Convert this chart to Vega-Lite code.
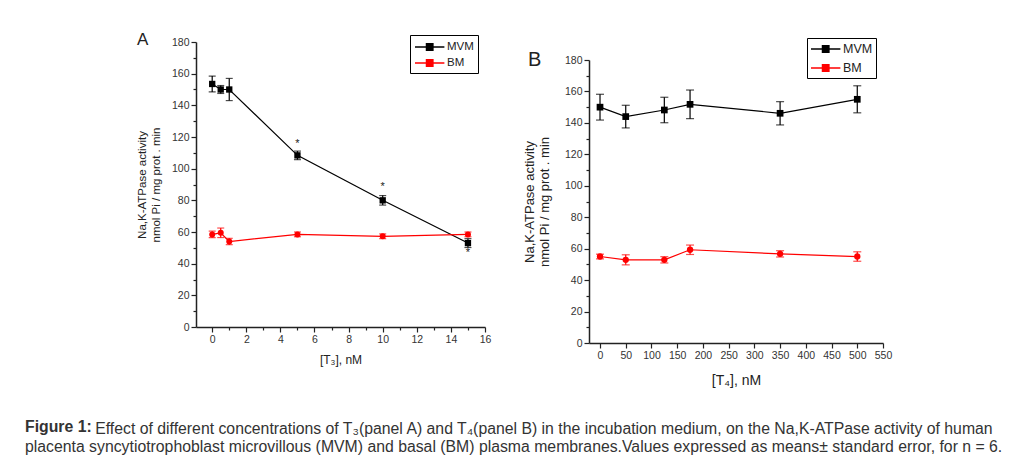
{
  "$schema": "https://vega.github.io/schema/vega-lite/v6.json",
  "background": "white",
  "padding": {"left": 25, "top": 30, "right": 5, "bottom": 5},
  "bounds": "flush",
  "spacing": 104,
  "config": {
    "font": "Liberation Sans",
    "view": {"stroke": null},
    "axis": {"grid": false, "domainColor": "#222", "domainWidth": 1.5, "tickColor": "#222", "tickWidth": 1.2, "labelColor": "#333", "labelFont": "Liberation Sans Narrow, Liberation Sans", "labelFontSize": 10.5, "titleFontWeight": "normal", "titleColor": "#222", "labelFlush": false, "labelOverlap": false, "labelPadding": 2}
  },
  "title": {
    "text": "Figure 1:",
    "orient": "bottom", "anchor": "start", "frame": "group", "dx": -171, "dy": -34, "fontSize": 15.8, "fontWeight": "bold", "color": "#333", "offset": 0
  },
  "datasets": {
    "A": [
      {"x": 0, "series": "MVM", "mean": 153.5, "err": 5},
      {"x": 0.5, "series": "MVM", "mean": 150, "err": 2.5},
      {"x": 1, "series": "MVM", "mean": 150, "err": 7},
      {"x": 5, "series": "MVM", "mean": 108.4, "err": 2.7},
      {"x": 10, "series": "MVM", "mean": 80, "err": 3},
      {"x": 15, "series": "MVM", "mean": 53, "err": 2.8},
      {"x": 0, "series": "BM", "mean": 58.5, "err": 2},
      {"x": 0.5, "series": "BM", "mean": 59.5, "err": 3},
      {"x": 1, "series": "BM", "mean": 54, "err": 2},
      {"x": 5, "series": "BM", "mean": 58.5, "err": 1.5},
      {"x": 10, "series": "BM", "mean": 57.3, "err": 1.5},
      {"x": 15, "series": "BM", "mean": 58.5, "err": 1.5}
    ],
    "starsA": [
      {"x": 5, "y": 115.4, "t": "*"},
      {"x": 10, "y": 88.4, "t": "*"},
      {"x": 15, "y": 46.5, "t": "*"}
    ],
    "B": [
      {"x": 0, "series": "MVM", "mean": 150, "err": 8.2},
      {"x": 50, "series": "MVM", "mean": 144, "err": 7.2},
      {"x": 125, "series": "MVM", "mean": 148.2, "err": 8.1},
      {"x": 175, "series": "MVM", "mean": 151.8, "err": 9.1},
      {"x": 350, "series": "MVM", "mean": 146.1, "err": 7.4},
      {"x": 500, "series": "MVM", "mean": 155, "err": 8.6},
      {"x": 0, "series": "BM", "mean": 55, "err": 1.5},
      {"x": 50, "series": "BM", "mean": 52.9, "err": 3.2},
      {"x": 125, "series": "BM", "mean": 52.9, "err": 2},
      {"x": 175, "series": "BM", "mean": 59.3, "err": 3},
      {"x": 350, "series": "BM", "mean": 56.7, "err": 2},
      {"x": 500, "series": "BM", "mean": 55, "err": 3}
    ]
  },
  "resolve": {"legend": {"color": "independent"}, "scale": {"color": "independent"}},
  "hconcat": [
    {
      "width": 289,
      "height": 285,
      "title": {"text": "A", "anchor": "start", "frame": "group", "dx": -59, "dy": 27, "fontSize": 17, "fontWeight": "normal", "color": "#222", "offset": 0, "baseline": "alphabetic"},
      "data": {"name": "A"},
      "encoding": {
        "x": {"field": "x", "type": "quantitative", "scale": {"domain": [-0.95, 16], "nice": false, "zero": false},
          "axis": {"title": "[T₃], nM", "titleFontSize": 12, "titlePadding": 10, "values": [0,1,2,3,4,5,6,7,8,9,10,11,12,13,14,15,16],
            "labelExpr": "datum.value % 2 === 0 ? datum.label : ''",
            "tickSize": {"condition": {"test": "datum.value % 2 === 0", "value": 5}, "value": 3}}},
        "y": {"field": "mean", "type": "quantitative", "scale": {"domain": [0, 180], "nice": false},
          "axis": {"title": ["Na,K-ATPase activity", "nmol Pi / mg prot . min"], "titleFontSize": 11.5, "titleLineHeight": 14, "titlePadding": 10,
            "values": [0,10,20,30,40,50,60,70,80,90,100,110,120,130,140,150,160,170,180],
            "labelExpr": "datum.value % 20 === 0 ? datum.label : ''",
            "tickSize": {"condition": {"test": "datum.value % 20 === 0", "value": 5}, "value": 3}}}
      },
      "layer": [
        {"transform": [{"filter": "datum.series === 'MVM'"}], "mark": {"type": "errorbar", "ticks": true, "size": 7, "thickness": 1.2, "color": "#000000"}, "encoding": {"yError": {"field": "err"}}},
        {"transform": [{"filter": "datum.series === 'BM'"}], "mark": {"type": "errorbar", "ticks": true, "size": 7, "thickness": 1.2, "color": "#ff0000"}, "encoding": {"yError": {"field": "err"}}},
        {"mark": {"type": "line", "strokeWidth": 1.2},
          "encoding": {"color": {"field": "series", "type": "nominal", "scale": {"domain": ["MVM", "BM"], "range": ["#000000", "#ff0000"]},
            "legend": {"title": null, "orient": "none", "legendX": 214, "legendY": -7, "strokeColor": "#000", "fillColor": "#fff", "padding": 4,
              "symbolType": "M-1,0H3.2M0.63,-0.47H1.57V0.47H0.63ZM0.8,-0.3H1.4V0.3H0.8ZM0.97,-0.13H1.23V0.13H0.97Z",
              "symbolSize": 196, "symbolStrokeWidth": 1.3, "labelFontSize": 11.5, "labelColor": "#222", "labelOffset": 17, "rowPadding": 2}}}},
        {"transform": [{"filter": "datum.series === 'MVM'"}], "mark": {"type": "point", "shape": "square", "filled": true, "opacity": 1, "size": 40, "color": "#000000"}},
        {"transform": [{"filter": "datum.series === 'BM'"}], "mark": {"type": "point", "shape": "circle", "filled": true, "opacity": 1, "size": 36, "color": "#ff0000"}},
        {"data": {"name": "starsA"}, "mark": {"type": "text", "fontSize": 11, "color": "#222"},
          "encoding": {"y": {"field": "y", "type": "quantitative"}, "text": {"field": "t"}}}
      ]
    },
    {
      "title": {
        "text": ["\u200b\u00a0\u00a0\u00a0\u00a0\u00a0\u00a0\u00a0\u00a0\u00a0\u00a0\u00a0\u00a0\u00a0\u00a0\u00a0\u00a0Effect of different concentrations of T₃(panel A) and T₄(panel B) in the incubation medium, on the Na,K-ATPase activity of human", "placenta syncytiotrophoblast microvillous (MVM) and basal (BM) plasma membranes.Values expressed as means± standard error, for n = 6."],
        "orient": "bottom", "anchor": "start", "frame": "group", "dx": -564, "fontSize": 15.8, "fontWeight": "normal", "color": "#333", "lineHeight": 18, "offset": 34
      },
      "vconcat": [
        {"width": 294, "height": 18, "data": {"values": []}, "mark": "point", "encoding": {}},
        {
          "width": 294,
          "height": 283,
          "title": {"text": "B", "anchor": "start", "frame": "group", "dx": -61, "dy": 31, "fontSize": 20, "fontWeight": "normal", "color": "#222", "offset": 0, "baseline": "alphabetic"},
          "data": {"name": "B"},
          "encoding": {
            "x": {"field": "x", "type": "quantitative", "scale": {"domain": [-21.4, 550], "nice": false, "zero": false},
              "axis": {"title": "[T₄], nM", "titleFontSize": 14, "titlePadding": 13, "values": [0,50,100,150,200,250,300,350,400,450,500,550], "tickSize": 5}},
            "y": {"field": "mean", "type": "quantitative", "scale": {"domain": [0, 180], "nice": false},
              "axis": {"title": ["Na,K-ATPase activity", "nmol Pi / mg prot . min"], "titleFontSize": 13, "titleLineHeight": 15, "titlePadding": 13,
                "values": [0,10,20,30,40,50,60,70,80,90,100,110,120,130,140,150,160,170,180],
                "labelExpr": "datum.value % 20 === 0 ? datum.label : ''",
                "tickSize": {"condition": {"test": "datum.value % 20 === 0", "value": 5}, "value": 3}}}
          },
          "layer": [
            {"transform": [{"filter": "datum.series === 'MVM'"}], "mark": {"type": "errorbar", "ticks": true, "size": 8, "thickness": 1.2, "color": "#000000"}, "encoding": {"yError": {"field": "err"}}},
            {"transform": [{"filter": "datum.series === 'BM'"}], "mark": {"type": "errorbar", "ticks": true, "size": 8, "thickness": 1.2, "color": "#ff0000"}, "encoding": {"yError": {"field": "err"}}},
            {"mark": {"type": "line", "strokeWidth": 1.2},
              "encoding": {"color": {"field": "series", "type": "nominal", "scale": {"domain": ["MVM", "BM"], "range": ["#000000", "#ff0000"]},
                "legend": {"title": null, "orient": "none", "legendX": 218, "legendY": -4, "strokeColor": "#000", "fillColor": "#fff", "padding": 3,
                  "symbolType": "M-1,0H3.2M0.63,-0.47H1.57V0.47H0.63ZM0.8,-0.3H1.4V0.3H0.8ZM0.97,-0.13H1.23V0.13H0.97Z",
                  "symbolSize": 196, "symbolStrokeWidth": 1.3, "labelFontSize": 12.5, "labelColor": "#222", "labelOffset": 17, "rowPadding": 4}}}},
            {"transform": [{"filter": "datum.series === 'MVM'"}], "mark": {"type": "point", "shape": "square", "filled": true, "opacity": 1, "size": 45, "color": "#000000"}},
            {"transform": [{"filter": "datum.series === 'BM'"}], "mark": {"type": "point", "shape": "circle", "filled": true, "opacity": 1, "size": 40, "color": "#ff0000"}}
          ]
        }
      ],
      "spacing": 0,
      "bounds": "flush"
    }
  ]
}
